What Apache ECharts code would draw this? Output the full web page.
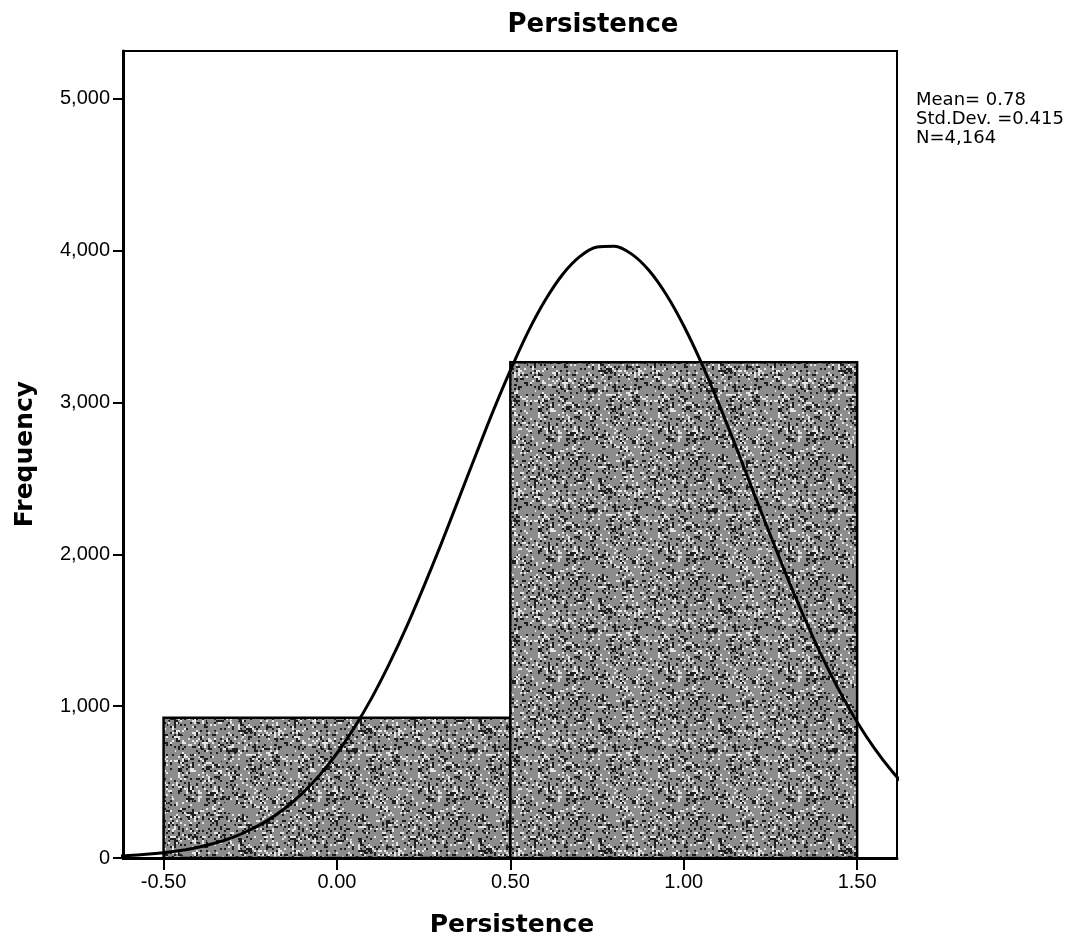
<!DOCTYPE html>
<html>
<head>
<meta charset="utf-8">
<script src="https://cdn.jsdelivr.net/npm/echarts@6/dist/echarts.min.js"></script>
<style>
html,body{margin:0;padding:0;background:#fff;}
#chart{width:1082px;height:944px;}
</style>
</head>
<body>
<div id="chart"></div>
<script>
// ---- data ----
var binStart = [-0.5, 0.5];
var binEnd = [0.5, 1.5];
var binCount = [924, 3265];

var curveX = [-0.7, -0.65, -0.6, -0.55, -0.5, -0.45, -0.4, -0.35, -0.3, -0.25, -0.2, -0.15, -0.1, -0.05,
  0.0, 0.05, 0.1, 0.15, 0.2, 0.25, 0.3, 0.35, 0.4, 0.45, 0.5, 0.55, 0.6, 0.65, 0.7, 0.75,
  0.8, 0.85, 0.9, 0.95, 1.0, 1.05, 1.1, 1.15, 1.2, 1.25, 1.3, 1.35, 1.4, 1.45, 1.5, 1.55, 1.6, 1.65, 1.7];
var curveY = [7, 11, 16, 24, 35, 50, 71, 99, 136, 186, 248, 328, 426, 546,
  690, 859, 1053, 1275, 1519, 1786, 2066, 2359, 2653, 2942, 3212, 3461, 3672, 3842, 3961, 4025,
  4030, 3978, 3870, 3710, 3506, 3266, 2998, 2712, 2417, 2125, 1840, 1571, 1322, 1096, 896, 722, 573, 448, 346];

var xTicks = [-0.5, 0.0, 0.5, 1.0, 1.5];
var yTicks = [0, 1000, 2000, 3000, 4000, 5000];

var titleText = 'Persistence';
var xName = 'Persistence';
var yName = 'Frequency';
var statsLines = ['Mean= 0.78', 'Std.Dev. =0.415', 'N=4,164'];

// ---- texture tile (style only) ----
function makeTexture() {
  var N = 120;
  var c = document.createElement('canvas');
  c.width = N; c.height = N;
  var ctx = c.getContext('2d');
  var img = ctx.createImageData(N, N);
  function h(x, y) {
    var s = Math.sin(x * 12.9898 + y * 78.233) * 43758.5453;
    return s - Math.floor(s);
  }
  for (var y = 0; y < N; y++) {
    for (var x = 0; x < N; x++) {
      var bx = Math.floor(x / 2), by = Math.floor(y / 2);
      var blot = 0.5 + 0.5 * Math.sin((x + y) * 2 * Math.PI / 60) * Math.cos((x - y) * 2 * Math.PI / 40);
      var r = h(bx, by);
      var v;
      if (r < 0.05 + 0.28 * blot) v = 30;
      else if (r > 0.93 - 0.12 * blot) v = 230;
      else v = 140;
      var i = (y * N + x) * 4;
      img.data[i] = v; img.data[i + 1] = v; img.data[i + 2] = v; img.data[i + 3] = 255;
    }
  }
  ctx.putImageData(img, 0, 0);
  return c;
}
var texture = makeTexture();

var barData = binStart.map(function (s, i) { return [s, binEnd[i], binCount[i]]; });
var curveData = curveX.map(function (x, i) { return [x, curveY[i]]; });

var chart = echarts.init(document.getElementById('chart'), null, { renderer: 'canvas' });
var labelFont = 'Liberation Sans';

chart.setOption({
  backgroundColor: '#fff',
  animation: false,
  grid: {
    left: 123, right: 185, top: 51, bottom: 86,
    show: true, borderColor: '#000', borderWidth: 2, backgroundColor: 'transparent'
  },
  xAxis: {
    type: 'value',
    min: -0.617, max: 1.615,
    axisLine: { show: true, onZero: false, lineStyle: { color: '#000', width: 3 } },
    axisTick: { show: true, length: 12, lineStyle: { color: '#000', width: 2 }, customValues: xTicks },
    axisLabel: {
      customValues: xTicks, margin: 14, color: '#000',
      fontFamily: labelFont, fontSize: 20,
      formatter: function (v) { return v.toFixed(2); }
    },
    splitLine: { show: false }
  },
  yAxis: {
    type: 'value',
    min: 0, max: 5316,
    axisLine: { show: true, onZero: false, lineStyle: { color: '#000', width: 3 } },
    axisTick: { show: true, length: 10, lineStyle: { color: '#000', width: 2 }, customValues: yTicks },
    axisLabel: {
      customValues: yTicks, margin: 13, color: '#000',
      fontFamily: labelFont, fontSize: 20,
      formatter: function (v) { return v.toLocaleString('en-US'); }
    },
    splitLine: { show: false }
  },
  series: [
    {
      type: 'custom',
      data: barData,
      clip: true,
      z: 2,
      renderItem: function (params, api) {
        var p0 = api.coord([api.value(0), api.value(2)]);
        var p1 = api.coord([api.value(1), 0]);
        return {
          type: 'rect',
          shape: { x: p0[0], y: p0[1], width: p1[0] - p0[0], height: p1[1] - p0[1] },
          style: { fill: { image: texture, repeat: 'repeat' }, stroke: '#000', lineWidth: 2.5 }
        };
      },
      encode: { x: [0, 1], y: 2 }
    },
    {
      type: 'line',
      data: curveData,
      smooth: 0.3,
      symbol: 'none',
      clip: true,
      z: 5,
      lineStyle: { color: '#000', width: 3 }
    }
  ],
  graphic: [
    {
      type: 'text', x: 593, y: 25,
      style: { text: titleText, fontFamily: 'DejaVu Sans', fontWeight: 'bold', fontSize: 26, fill: '#000', align: 'center', verticalAlign: 'middle' }
    },
    {
      type: 'text', x: 512, y: 925,
      style: { text: xName, fontFamily: 'DejaVu Sans', fontWeight: 'bold', fontSize: 25, fill: '#000', align: 'center', verticalAlign: 'middle' }
    },
    {
      type: 'text', x: 25, y: 454, rotation: Math.PI / 2,
      style: { text: yName, fontFamily: 'DejaVu Sans', fontWeight: 'bold', fontSize: 25, fill: '#000', align: 'center', verticalAlign: 'middle' }
    },
    {
      type: 'text', x: 916, y: 91,
      style: { text: statsLines.join('\n'), fontFamily: 'DejaVu Sans', fontSize: 18, lineHeight: 19, fill: '#000', align: 'left', verticalAlign: 'top' }
    }
  ]
});
</script>
</body>
</html>
